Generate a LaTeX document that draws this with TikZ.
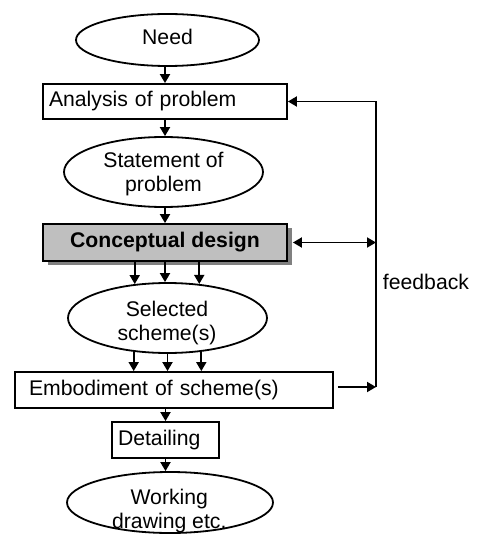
\documentclass[tikz,border=0pt]{standalone}
\usepackage{fontspec}
\setmainfont{Liberation Sans}
\usetikzlibrary{shapes.geometric,arrows.meta,shadows,calc}
\begin{document}
\begin{tikzpicture}[x=1pt,y=-1pt,
  every node/.style={font=\fontsize{21.2}{24}\selectfont},
  stroke/.style={line width=1.8pt},
  arr/.style={stroke,-{Triangle[length=9pt,width=10pt]}},
  dblarr/.style={stroke,{Triangle[length=9pt,width=10pt]}-{Triangle[length=9pt,width=10pt]}},
  oval/.style={ellipse,draw,stroke,inner sep=-10pt},
  lbl/.style={align=center,inner sep=0pt},
  box/.style={rectangle,draw,stroke,align=left,inner ysep=0pt},
  mainbox/.style={rectangle,draw,stroke,align=center,fill=black!25,
    font=\fontsize{21.2}{24}\selectfont\bfseries,
    drop shadow={shadow xshift=5pt,shadow yshift=-4pt,fill=black!50,opacity=1}}
]
\useasboundingbox (0,0) rectangle (476,534);

% process stages
\node[oval,minimum width=183pt,minimum height=52pt] (need) at (167.5,40) {};
\node[lbl] (needtxt) at (167.5,36.5) {Need};

\node[box,minimum height=35pt,text width=232pt,inner xsep=6pt] (ana) at (165,101.5) {Analysis of problem};

\node[oval,minimum width=199pt,minimum height=70pt] (stmt) at (163.5,172) {};
\node[lbl] (stmttxt) at (163.5,174.5) {Statement of\\problem};

\node[mainbox,minimum width=244pt,minimum height=37pt] (cd) at (165,242.5) {Conceptual design};

\node[oval,minimum width=199pt,minimum height=70pt] (sel) at (167.5,318) {};
\node[lbl] (seltxt) at (167,323) {Selected\\scheme(s)};

\node[box,minimum height=36pt,text width=290pt,inner xsep=14pt] (emb) at (174,390) {Embodiment of scheme(s)};

\node[box,minimum height=36pt,text width=95pt,inner xsep=6pt] (det) at (165.5,440) {Detailing};

\node[oval,minimum width=206pt,minimum height=61pt] (work) at (170,502.5) {};
\node[lbl] (worktxt) at (169.3,511) {Working\\drawing etc.};

% main flow
\draw[arr] (ana.north |- need.south) -- (ana.north);
\draw[arr] (ana.south) -- (ana.south |- stmt.north);
\draw[arr] (cd.north |- stmt.south) -- (cd.north);

\draw[arr] (cd.south -| sel.134.5) -- (sel.134.5);
\draw[arr] (cd.south) -- (cd.south |- sel.north);
\draw[arr] (cd.south -| sel.47.5) -- (sel.47.5);

\draw[arr] (sel.225.5) -- (sel.225.5 |- emb.north);
\draw[arr] (sel.south) -- (sel.south |- emb.north);
\draw[arr] (sel.315.5) -- (sel.315.5 |- emb.north);

\draw[arr] (det.north |- emb.south) -- (det.north);
\draw[arr] (det.south) -- (det.south |- work.north);

% feedback loop
\coordinate (fbbot) at (376,387);
\draw[arr] ($(emb.east)+(4,-3)$) -- (fbbot);
\draw[arr] (fbbot) |- (ana.east);
\draw[dblarr] ($(cd.east)+(5,0)$) -- (cd.east -| fbbot);
\node (fblabel) at (426,282) {feedback};
\end{tikzpicture}
\end{document}
